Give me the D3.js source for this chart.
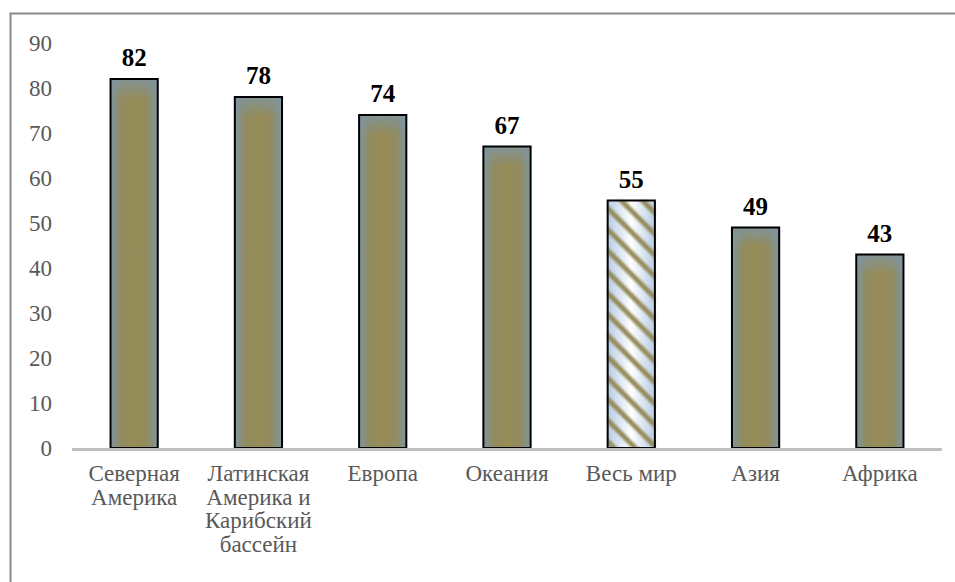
<!DOCTYPE html>
<html>
<head>
<meta charset="utf-8">
<script src="https://cdn.jsdelivr.net/npm/d3@7"></script>
<style>
  html, body { margin: 0; padding: 0; background: #fff; }
  svg { display: block; }
</style>
</head>
<body>
<svg id="chart" width="955" height="582" font-family="Liberation Serif"></svg>
<script>
// Regions and their values
const categories = [
  ["Северная", "Америка"],
  ["Латинская", "Америка и", "Карибский", "бассейн"],
  ["Европа"],
  ["Океания"],
  ["Весь мир"],
  ["Азия"],
  ["Африка"]
];
const values = [82, 78, 74, 67, 55, 49, 43];
const highlighted = [false, false, false, false, true, false, false];
const yTicks = [0, 10, 20, 30, 40, 50, 60, 70, 80, 90];

const FONT = "Liberation Serif";
const svg = d3.select("#chart");
const margin = { left: 72, right: 13, top: 43, bottom: 134 };
const W = 955, H = 582;

// Outer frame (only left and top edges fall inside the view)
svg.append("rect")
  .attr("x", 10.5).attr("y", 13.5)
  .attr("width", 1000).attr("height", 1000)
  .attr("fill", "none").attr("stroke", "#8c8c8c").attr("stroke-width", 2);

const defs = svg.append("defs");

// Bar fill: olive centre with bluish edges
const gh = defs.append("linearGradient").attr("id", "gh").attr("x1", 0).attr("x2", 1).attr("y1", 0).attr("y2", 0);
gh.append("stop").attr("offset", "0%").attr("stop-color", "#7f95a0");
gh.append("stop").attr("offset", "22%").attr("stop-color", "#918b60");
gh.append("stop").attr("offset", "50%").attr("stop-color", "#978c56");
gh.append("stop").attr("offset", "78%").attr("stop-color", "#918b60");
gh.append("stop").attr("offset", "100%").attr("stop-color", "#7f95a0");

const gvTop = defs.append("linearGradient").attr("id", "gvTop").attr("x1", 0).attr("x2", 0).attr("y1", 0).attr("y2", 1);
gvTop.append("stop").attr("offset", "0").attr("stop-color", "#7f95a0").attr("stop-opacity", 0.85);
gvTop.append("stop").attr("offset", "1").attr("stop-color", "#7f95a0").attr("stop-opacity", 0);

// Hatch fill for the world bar
const gw = defs.append("linearGradient").attr("id", "gw").attr("x1", 0).attr("x2", 1).attr("y1", 0).attr("y2", 0);
gw.append("stop").attr("offset", "0%").attr("stop-color", "#b7cde5");
gw.append("stop").attr("offset", "50%").attr("stop-color", "#ffffff");
gw.append("stop").attr("offset", "100%").attr("stop-color", "#b7cde5");

const blur = defs.append("filter").attr("id", "soft").attr("x", "-10%").attr("y", "-10%").attr("width", "120%").attr("height", "120%");
blur.append("feGaussianBlur").attr("stdDeviation", 0.9);

const pat = defs.append("pattern").attr("id", "hatch")
  .attr("patternUnits", "userSpaceOnUse")
  .attr("width", 15).attr("height", 15)
  .attr("patternTransform", "rotate(45)");
pat.append("rect").attr("x", 0).attr("y", 0).attr("width", 15).attr("height", 5)
  .attr("fill", "#958b5c");

const x = d3.scaleBand()
  .domain(d3.range(values.length))
  .range([margin.left, W - margin.right])
  .paddingInner(0.62).paddingOuter(0.31);

const y = d3.scaleLinear().domain([0, 90]).range([H - margin.bottom, margin.top]);

// Y tick labels
svg.append("g").selectAll("text").data(yTicks).join("text")
  .attr("x", 52).attr("y", d => y(d))
  .attr("dy", "0.33em")
  .attr("text-anchor", "end")
  .style("font-family", FONT)
  .attr("font-size", 23)
  .attr("fill", "#595959")
  .text(d => d);

// Bars
const bars = svg.append("g").selectAll("g").data(values).join("g");
bars.each(function (v, i) {
  const g = d3.select(this);
  const bx = x(i), bw = x.bandwidth(), by = y(v), bh = y(0) - y(v);
  if (highlighted[i]) {
    g.append("rect").attr("x", bx).attr("y", by).attr("width", bw).attr("height", bh).attr("fill", "url(#gw)");
    g.append("rect").attr("x", bx).attr("y", by).attr("width", bw).attr("height", bh)
      .attr("fill", "url(#hatch)").attr("filter", "url(#soft)");
  } else {
    g.append("rect").attr("x", bx).attr("y", by).attr("width", bw).attr("height", bh).attr("fill", "url(#gh)");
    g.append("rect").attr("x", bx).attr("y", by).attr("width", bw).attr("height", Math.min(20, bh)).attr("fill", "url(#gvTop)");
  }
  g.append("rect").attr("x", bx).attr("y", by).attr("width", bw).attr("height", bh)
    .attr("fill", "none").attr("stroke", "#000").attr("stroke-width", 2);
});

// Value labels
svg.append("g").selectAll("text").data(values).join("text")
  .attr("x", (d, i) => x(i) + x.bandwidth() / 2)
  .attr("y", d => y(d) - 13)
  .attr("text-anchor", "middle")
  .style("font-family", FONT)
  .attr("font-weight", "bold")
  .attr("font-size", 25)
  .attr("fill", "#000")
  .text(d => d);

// Baseline
svg.append("line")
  .attr("x1", margin.left).attr("x2", W - margin.right)
  .attr("y1", y(0) + 1.5).attr("y2", y(0) + 1.5)
  .attr("stroke", "#bfbfbf").attr("stroke-width", 3);

// Category labels
const cat = svg.append("g").selectAll("text").data(categories).join("text")
  .attr("x", (d, i) => x(i) + x.bandwidth() / 2)
  .attr("y", y(0) + 33)
  .attr("text-anchor", "middle")
  .style("font-family", FONT)
  .attr("font-size", 23)
  .attr("fill", "#595959");
cat.each(function (lines, i) {
  d3.select(this).selectAll("tspan").data(lines).join("tspan")
    .attr("x", x(i) + x.bandwidth() / 2)
    .attr("dy", (d, k) => k === 0 ? 0 : 23.7)
    .text(d => d);
});
</script>
</body>
</html>
